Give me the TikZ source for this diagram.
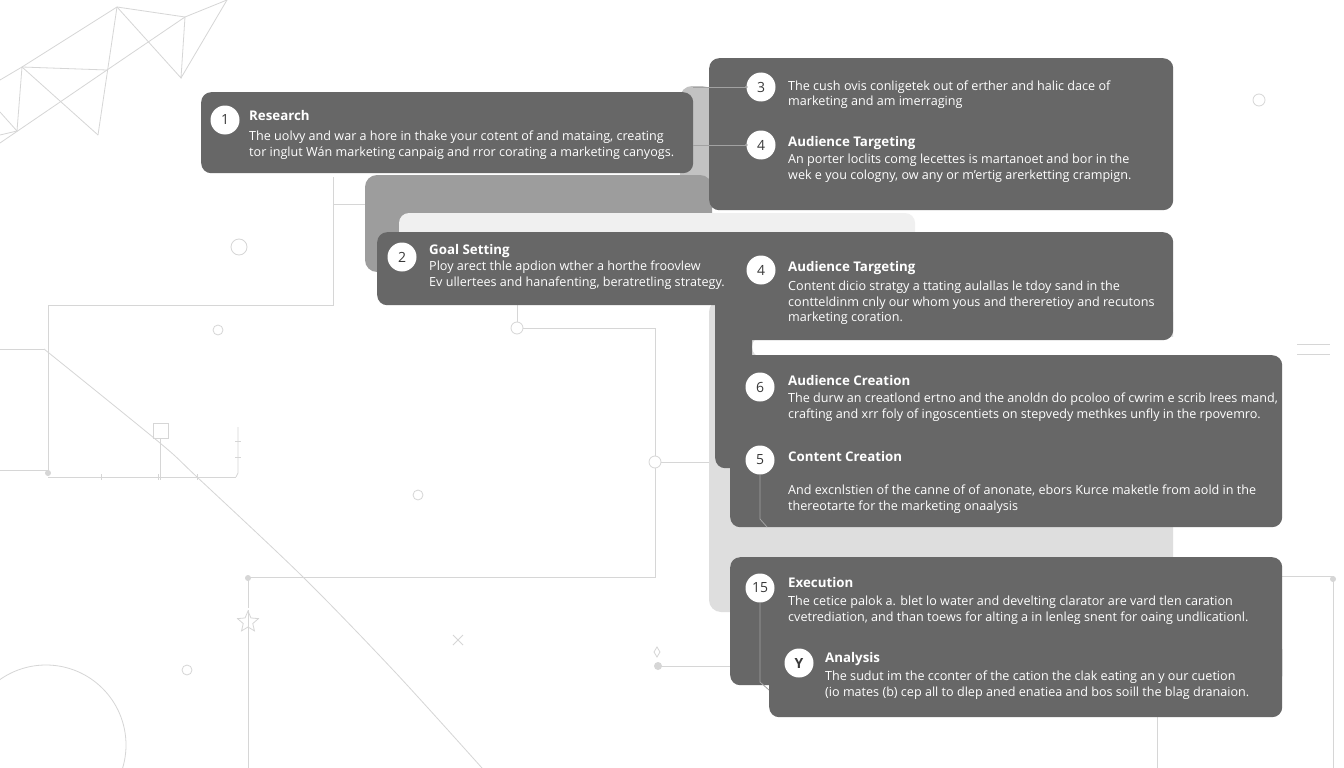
\documentclass[tikz,border=0pt]{standalone}
\usepackage{fontspec}
\setmainfont{Open Sans}
\usetikzlibrary{shapes.geometric}
\definecolor{boxc}{HTML}{676767}
\definecolor{panA}{HTML}{9D9D9D}
\definecolor{panAl}{HTML}{C2C2C2}
\definecolor{panB}{HTML}{F0F0F0}
\definecolor{panC}{HTML}{DEDEDE}
\definecolor{decoc}{HTML}{D6D6D6}
\definecolor{numc}{HTML}{3A3A3A}
\definecolor{connc}{HTML}{A2A2A2}
\tikzset{
  deco/.style={draw=decoc, line width=0.8pt},
  box/.style={fill=boxc, rounded corners=10pt, inner sep=0pt, anchor=north west},
  num/.style={circle, fill=white, minimum size=29pt, inner sep=0pt, text=numc, font=\fontsize{14}{14}\selectfont},
  ttl/.style={anchor=base west, inner sep=0pt, text=white, font=\fontsize{13.3}{16}\selectfont\bfseries},
  bdy/.style={anchor=north west, inner sep=0pt, text=white, align=left, font=\fontsize{12.6}{15.5}\selectfont},
  conn/.style={draw=connc, line width=0.8pt},
  ring/.style={circle, draw=decoc, line width=0.8pt, fill=white, inner sep=0pt}
}
\begin{document}
\begin{tikzpicture}[x=1pt,y=-1pt]
\useasboundingbox (0,0) rectangle (1344,768);
\clip (0,0) rectangle (1344,768);
\fill[white] (0,0) rectangle (1344,768);

% ---------- background decorations ----------
% lattice top-left
\draw[deco] (0,80) -- (22,67) -- (117,7) -- (185,17) -- (227,0);
\draw[deco] (117,7) -- (98,135);
\draw[deco] (117,7) -- (181,78) -- (185,17);
\draw[deco] (227,0) -- (181,78);
\draw[deco] (22,67) -- (107,70) -- (185,17);
\draw[deco] (0,143) -- (107,70);
\draw[deco] (22,67) -- (98,135);
\draw[deco] (22,67) -- (17,131);
\draw[deco] (0,112) -- (17,131) -- (0,135);
\node[ring, minimum size=16pt] (r1) at (239,247) {};
% left frame lines
\draw[deco] (333,177) -- (333,305) -- (48,305) -- (48,473);
\draw[deco] (333,204) -- (365,204);
\draw[deco] (0,349) -- (44,349);
\draw[deco] (0,470) -- (48,470);
\fill[decoc] (48,473) circle (3pt);
\draw[deco] (48,477) -- (236,477);
\draw[deco] (238,427) -- (238,473) -- (236,477);
\foreach \yy in {441,457} \draw[deco] (235,\yy) -- (241,\yy);
\foreach \xx in {101,158,197} \draw[deco] (\xx,474) -- (\xx,480);
\draw[deco] (153,423) rectangle (168,438);
\draw[deco] (160,438) -- (160,480);
\draw[deco] plot[smooth] coordinates {(44,349) (160,443) (197,477) (303,577) (395,672) (482,768)};
\node[ring, minimum size=10pt] (r2) at (218,330) {};
\node[ring, minimum size=10pt] (r3) at (418,495) {};
\node[ring, minimum size=10pt] (r4) at (187,670) {};
\draw[deco] (46,745) circle (80pt);
% middle connectors
\node[ring, minimum size=12pt] (j1) at (517,328) {};
\node[ring, minimum size=12pt] (j2) at (655,462) {};
\draw[deco] (517,305) -- (j1.north);
\draw[deco] (j1.east) -- (655,328) -- (j2.north);
\draw[deco] (j2.south) -- (655,577) -- (248,577) -- (248,608);
\draw[deco] (j2.east) -- (718,462);
\fill[decoc] (248,578) circle (3pt);
\node[star, star points=5, star point ratio=2.2, draw=decoc, line width=0.8pt, minimum size=22pt, inner sep=0pt] (st) at (248,622) {};
\draw[deco] (248,610) -- (248,633);
\draw[deco] (st.south) -- (248,768);
\draw[deco] (453,635) -- (463,645) (463,635) -- (453,645);
\draw[deco] (657,647) -- (660,652) -- (657,657) -- (654,652) -- cycle;
\fill[decoc] (658,666) circle (4pt);
\draw[deco] (658,666) -- (730,666);
% right side
\node[ring, minimum size=12pt] (r5) at (1259,100) {};
\draw[deco] (1297,344) -- (1330,344) (1297,354) -- (1330,354);
\draw[deco] (1282,576) -- (1333,576) -- (1333,768);
\fill[decoc] (1333,579) circle (3pt);
\draw[deco] (1157,717) -- (1157,768);

% ---------- back panels ----------
\fill[panAl, rounded corners=12pt] (680,86) rectangle (714,200);
\fill[panA, rounded corners=12pt] (365,175) rectangle (712,272);
\fill[panB, rounded corners=10pt] (399,213) rectangle (915,250);
\fill[panC, rounded corners=12pt] (709,300) rectangle (1173,612);
\fill[white, rounded corners=10pt] (752,337) rectangle (1190,357);

% ---------- dark boxes ----------
\node[box, minimum width=492pt, minimum height=81pt] (b1) at (201,92) {};
\node[box, minimum width=464pt, minimum height=152pt] (b2) at (709,58) {};
\node[box, minimum width=363pt, minimum height=73pt] (bg) at (377,232) {};
\node[box, minimum width=458pt, minimum height=108pt] (bat) at (715,232) {};
\node[box, minimum width=37pt, minimum height=168pt] (be) at (715,300) {};
\node[box, minimum width=552pt, minimum height=172pt] (bac) at (730,355) {};
\node[box, minimum width=552pt, minimum height=128pt] (bex) at (730,557) {};
\node[box, minimum width=513pt, minimum height=77pt] (ban) at (769,640) {};

% ---------- number circles ----------
\node[num] (c1) at (225,120) {1};
\node[num] (c3) at (761,87) {3};
\node[num] (c4) at (761,145) {4};
\node[num] (c2) at (402,257) {2};
\node[num] (c4b) at (761,270) {4};
\node[num] (c6) at (760,387) {6};
\node[num] (c5) at (760,460) {5};
\node[num] (c15) at (760,588) {15};
\node[num] (cy) at (799,663) {\textbf{Y}};

% connectors
\coordinate (k1) at (b1.east |- c3);
\coordinate (k2) at (b1.east |- c4);
\draw[conn] (k1) -- (c3.west);
\draw[conn] (k2) -- (c4.west);
\fill[connc] (c3.west) circle (1.5pt) (c4.west) circle (1.5pt);
\coordinate (k3) at (760,519);
\coordinate (k4) at (767,527);
\draw[conn] (c5.south) -- (k3) -- (k4);
\coordinate (k5) at (760,682);
\coordinate (k6) at (769,690);
\draw[conn] (c15.south) -- (k5) -- (k6);

% ---------- texts ----------
\node[ttl] (t1) at (249,121) {Research};
\node[bdy] (d1) at (249,131) {The uolvy and war a hore in thake your cotent of and mataing, creating\\tor inglut W\'an marketing canpaig and rror corating a marketing canyogs.};

\node[bdy] (d3) at (788,80.5) {The cush ovis conligetek out of erther and halic dace of\\marketing and am imerraging};

\node[ttl] (t4) at (788,146) {Audience Targeting};
\node[bdy] (d4) at (788,154) {An porter loclits comg lecettes is martanoet and bor in the\\wek e you cologny, ow any or m'ertig arerketting crampign.};

\node[ttl] (t2) at (429,254) {Goal Setting};
\node[bdy] (d2) at (429,261) {Ploy arect thle apdion wther a horthe froovlew\\Ev ullertees and hanafenting, beratretling strategy.};

\node[ttl] (t4b) at (788,271) {Audience Targeting};
\node[bdy] (d4b) at (788,281) {Content dicio stratgy a ttating aulallas le tdoy sand in the\\contteldinm cnly our whom yous and thereretioy and recutons\\marketing coration.};

\node[ttl] (t6) at (788,385) {Audience Creation};
\node[bdy] (d6) at (788,393) {The durw an creatlond ertno and the anoldn do pcoloo of cwrim e scrib lrees mand,\\crafting and xrr foly of ingoscentiets on stepvedy methkes unfly in the rpovemro.};

\node[ttl] (t5) at (788,461) {Content Creation};
\node[bdy] (d5) at (788,485) {And excnlstien of the canne of of anonate, ebors Kurce maketle from aold in the\\thereotarte for the marketing onaalysis};

\node[ttl] (t15) at (788,587) {Execution};
\node[bdy] (d15) at (788,596) {The cetice palok a. blet lo water and develting clarator are vard tlen caration\\cvetrediation, and than toews for alting a in lenleg snent for oaing undlicationl.};

\node[ttl] (ty) at (825,662) {Analysis};
\node[bdy] (dy) at (825,671) {The sudut im the cconter of the cation the clak eating an y our cuetion\\(io mates (b) cep all to dlep aned enatiea and bos soill the blag dranaion.};
\end{tikzpicture}
\end{document}
